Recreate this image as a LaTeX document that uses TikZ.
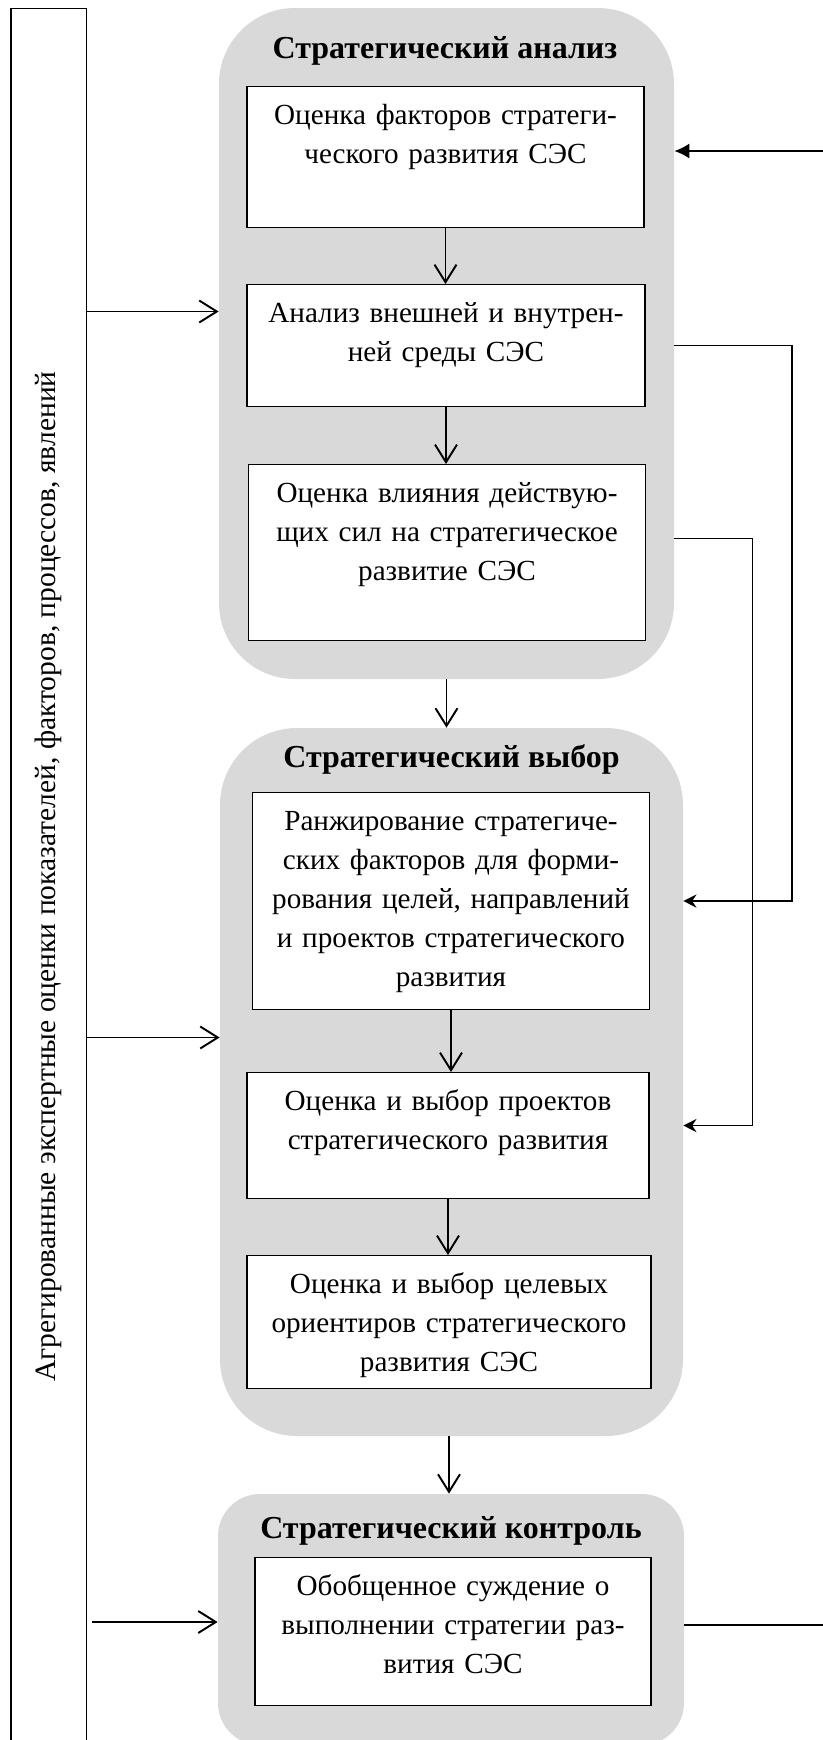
\documentclass[tikz,border=0pt]{standalone}
\usepackage{fontspec}
\setmainfont{Liberation Serif}
\definecolor{stagegray}{RGB}{217,217,217}
\usetikzlibrary{arrows.meta,positioning,calc}

\begin{document}
\begin{tikzpicture}[every node/.style={font=\fontsize{16.6pt}{22.2pt}\selectfont},
  phase/.style={fill=stagegray, draw=none, inner sep=0pt},
  ttl/.style={font=\fontsize{18.2pt}{20pt}\selectfont\bfseries, anchor=base},
  blk/.style={draw, line width=0.6pt, fill=white, align=center, anchor=north, inner xsep=0pt, inner ysep=0pt, text height=0.76cm},
  arr/.style={-{Straight Barb[length=10pt,width=12.5pt]}, line width=1.1pt},
  back/.style={-{Stealth[length=7.5pt,width=7.5pt,inset=2.5pt]}, line width=0.9pt}]
\useasboundingbox (0,0) rectangle (16.46,-34.8);

% stages
\node[phase, minimum width=9.10cm, minimum height=13.42cm, rounded corners=1.52cm] (an) at (8.93,-6.87) {};
\node[phase, minimum width=9.26cm, minimum height=14.16cm, rounded corners=1.54cm] (vy) at (9.03,-21.64) {};
\node[phase, minimum width=9.32cm, minimum height=5.02cm, rounded corners=0.84cm] (ko) at (9.02,-32.39) {};
\node[ttl] (t1) at (8.90,-1.16) {Стратегический анализ};
\node[ttl] (t2) at (9.03,-15.35) {Стратегический выбор};
\node[ttl] (t3) at (9.02,-30.76) {Стратегический контроль};

% steps
\node[blk, text width=7.94cm, text depth=2.06cm] (b1) at (8.91,-1.714) {Оценка факторов стратеги-\\ческого развития СЭС};
\node[blk, text width=7.96cm, text depth=1.68cm] (b2) at (8.92,-5.68) {Анализ внешней и внутрен-\\ней среды СЭС};
\node[blk, text width=7.95cm, text depth=2.76cm] (b3) at (8.94,-9.28) {Оценка влияния действую-\\щих сил на стратегическое\\развитие СЭС};
\node[blk, text width=7.93cm, text depth=3.58cm] (b4) at (9.02,-15.84) {Ранжирование стратегиче-\\ских факторов для форми-\\рования целей, направлений\\и проектов стратегического\\развития};
\node[blk, text width=8.04cm, text depth=1.76cm] (b5) at (8.96,-21.44) {Оценка и выбор проектов\\стратегического развития};
\node[blk, text width=8.08cm, text depth=1.90cm] (b6) at (8.98,-25.10) {Оценка и выбор целевых\\ориентиров стратегического\\развития СЭС};
\node[blk, text width=7.92cm, text depth=2.20cm] (b7) at (9.06,-31.14) {Обобщенное суждение о\\выполнении стратегии раз-\\вития СЭС};

% expert estimates
\node[draw, line width=0.6pt, rotate=90, minimum width=34.73cm, minimum height=1.514cm, inner sep=0pt, font=\fontsize{16.8pt}{20pt}\selectfont] (agg) at (0.977,-17.53) {Агрегированные экспертные оценки показателей, факторов, процессов, явлений};

% flow
\draw[arr] (b1.south) -- (b1.south |- b2.north);
\draw[arr] (b2.south) -- (b2.south |- b3.north);
\draw[arr] (an.south) -- (an.south |- vy.north);
\draw[arr] (b4.south) -- (b4.south |- b5.north);
\draw[arr] (b5.south) -- (b5.south |- b6.north);
\draw[arr] (b6.south |- vy.south) -- (b6.south |- ko.north);

\draw[arr] (agg.south |- 0,-6.23) -- (an.west |- 0,-6.23);
\draw[arr] (agg.south |- 0,-20.75) -- (vy.west |- 0,-20.75);
\draw[arr] ([xshift=0.1cm]agg.south |- 0,-32.44) -- (ko.west |- 0,-32.44);

% feedback
\coordinate (in1) at (16.46,-3.02);
\coordinate (out1) at (16.46,-32.5);
\draw[-{Latex[length=8.5pt,width=8.5pt]}, line width=0.9pt] (in1) -- (an.east |- in1);
\draw[back] (an.east |- b2.east) -- ++(2.35,0) |- (vy.east |- b4.east);
\draw[back] ([yshift=0.28cm]an.east |- b3.east) -- ++(1.56,0) |- ([yshift=0.2cm]vy.east |- b5.east);
\draw[line width=0.9pt] (ko.east |- out1) -- (out1);
\end{tikzpicture}
\end{document}
